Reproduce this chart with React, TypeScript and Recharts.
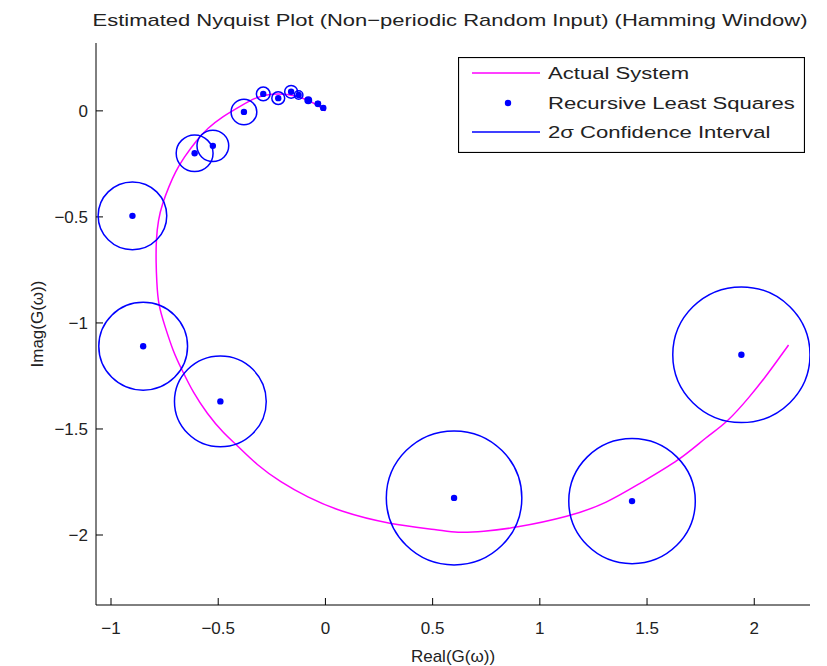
import { ComposedChart, Legend, Line, Scatter, XAxis, YAxis, Label } from 'recharts';

// actual system frequency response
const actualRe = [0, -0.04, -0.1, -0.18, -0.25, -0.32, -0.4, -0.48, -0.55, -0.6, -0.66, -0.7, -0.73, -0.76, -0.78, -0.79, -0.79, -0.787, -0.78, -0.748, -0.71, -0.67, -0.616, -0.553, -0.476, -0.414, -0.32, -0.21, -0.087, 0.068, 0.3, 0.534, 0.61, 0.737, 0.876, 1.14, 1.312, 1.467, 1.654, 1.778, 1.87, 1.98, 2.06, 2.16];
const actualIm = [0, 0.03, 0.06, 0.08, 0.08, 0.067, 0.02, -0.027, -0.082, -0.137, -0.22, -0.287, -0.357, -0.436, -0.514, -0.61, -0.72, -0.8, -0.915, -1.017, -1.135, -1.22, -1.33, -1.426, -1.52, -1.575, -1.67, -1.75, -1.82, -1.89, -1.95, -1.976, -1.99, -1.984, -1.968, -1.913, -1.85, -1.756, -1.646, -1.536, -1.473, -1.347, -1.245, -1.104];

// RLS estimates and 2-sigma radius
const rlsRe = [1.94, 1.43, 0.6, -0.49, -0.85, -0.9, -0.61, -0.525, -0.38, -0.29, -0.22, -0.16, -0.125, -0.08, -0.035, -0.01];
const rlsIm = [-1.15, -1.84, -1.825, -1.37, -1.11, -0.495, -0.2, -0.165, -0.005, 0.08, 0.06, 0.09, 0.075, 0.05, 0.033, 0.014];
const ciRadius = [0.32, 0.295, 0.316, 0.214, 0.207, 0.16, 0.086, 0.074, 0.06, 0.032, 0.03, 0.03, 0.02, 0.015, 0.012, 0.01];

const xTicks = [-1, -0.5, 0, 0.5, 1, 1.5, 2];
const yTicks = [-2, -1.5, -1, -0.5, 0];
const xDomain = [-1.07, 2.26];
const yDomain = [-2.33, 0.32];

const W = 827;
const H = 666;
const M = { top: 43, right: 17, left: 0, bottom: 0 };
const Y_AXIS_W = 96;
const X_AXIS_H = 61;
const plotW = W - M.left - M.right - Y_AXIS_W;
const plotH = H - M.top - M.bottom - X_AXIS_H;
const pxPerX = plotW / (xDomain[1] - xDomain[0]);
const pxPerY = plotH / (yDomain[1] - yDomain[0]);

const FONT = '"Liberation Sans", Arial, sans-serif';
const MAGENTA = '#ff00ff';
const BLUE = '#0000ff';

const actualData = actualRe.map((x, i) => ({ x, y: actualIm[i] }));
const rlsData = rlsRe.map((x, i) => ({ x, y: rlsIm[i], r: ciRadius[i] }));

const fmt = (v: number) => (v < 0 ? `\u2212${Math.abs(v)}` : `${v}`);

const CircleShape = (props: any) => {
    const { cx, cy, payload } = props;
    if (cx == null || cy == null) return <g />;
    return (
        <ellipse
            cx={cx}
            cy={cy}
            rx={payload.r * pxPerX}
            ry={payload.r * pxPerY}
            fill="none"
            stroke={BLUE}
            strokeWidth={1.5}
        />
    );
};

const DotShape = (props: any) => {
    const { cx, cy } = props;
    if (cx == null || cy == null) return <g />;
    return <circle cx={cx} cy={cy} r={3.2} fill={BLUE} />;
};

const StretchText = ({ x, y, children }: { x: number; y: number; children: string }) => (
    <text
        transform={`translate(${x},${y}) scale(1.3,1)`}
        fontFamily={FONT}
        fontSize={17}
        fill="#222"
    >
        {children}
    </text>
);

const renderLegend = () => (
    <svg width={347} height={96} style={{ display: 'block' }}>
        <rect x={0.5} y={0.5} width={346} height={95} fill="#fff" stroke="#000" strokeWidth={1.2} />
        <line x1={14} x2={82} y1={16} y2={16} stroke={MAGENTA} strokeWidth={1.5} />
        <circle cx={50} cy={46} r={3.2} fill={BLUE} />
        <line x1={14} x2={82} y1={75} y2={75} stroke={BLUE} strokeWidth={1.5} />
        <StretchText x={90} y={22}>Actual System</StretchText>
        <StretchText x={90} y={52}>Recursive Least Squares</StretchText>
        <StretchText x={90} y={81}>2σ Confidence Interval</StretchText>
    </svg>
);

export default function App() {
    return (
        <div style={{ position: 'absolute', left: 0, top: 0, width: W, height: H, background: '#fff' }}>
            <svg width={W} height={40} style={{ position: 'absolute', left: 0, top: 0 }}>
                <text
                    x={450}
                    y={26}
                    textAnchor="middle"
                    fontFamily={FONT}
                    fontSize={17}
                    fill="#222"
                    textLength={715}
                    lengthAdjust="spacingAndGlyphs"
                >
                    Estimated Nyquist Plot (Non{'\u2212'}periodic Random Input) (Hamming Window)
                </text>
            </svg>
            <ComposedChart width={W} height={H} margin={M} style={{ position: 'absolute', left: 0, top: 0 }}>
                <XAxis
                    type="number"
                    dataKey="x"
                    domain={xDomain}
                    ticks={xTicks}
                    allowDataOverflow
                    height={X_AXIS_H}
                    tickSize={-7}
                    tickMargin={24}
                    tickFormatter={fmt}
                    stroke="#000"
                    tick={{ fill: '#222', fontSize: 17, fontFamily: FONT }}
                >
                    <Label
                        value="Real(G(ω))"
                        position="insideBottom"
                        offset={4}
                        style={{ fill: '#222', fontSize: 17, fontFamily: FONT }}
                    />
                </XAxis>
                <YAxis
                    type="number"
                    dataKey="y"
                    domain={yDomain}
                    ticks={yTicks}
                    allowDataOverflow
                    width={Y_AXIS_W}
                    tickSize={-7}
                    tickMargin={15}
                    tickFormatter={fmt}
                    stroke="#000"
                    tick={{ fill: '#222', fontSize: 17, fontFamily: FONT }}
                >
                    <Label
                        value="Imag(G(ω))"
                        angle={-90}
                        position="insideLeft"
                        offset={37}
                        style={{ fill: '#222', fontSize: 17, fontFamily: FONT, textAnchor: 'middle' }}
                    />
                </YAxis>
                <Line
                    data={actualData}
                    dataKey="y"
                    type="basis"
                    stroke={MAGENTA}
                    strokeWidth={1.5}
                    dot={false}
                    activeDot={false}
                    isAnimationActive={false}
                />
                <Scatter data={rlsData} shape={CircleShape} isAnimationActive={false} />
                <Scatter data={rlsData} shape={DotShape} isAnimationActive={false} />
                <Legend
                    layout="horizontal"
                    verticalAlign="middle"
                    align="center"
                    content={renderLegend}
                    wrapperStyle={{ left: 458, top: 57, width: 347, height: 96 }}
                />
            </ComposedChart>
        </div>
    );
}
